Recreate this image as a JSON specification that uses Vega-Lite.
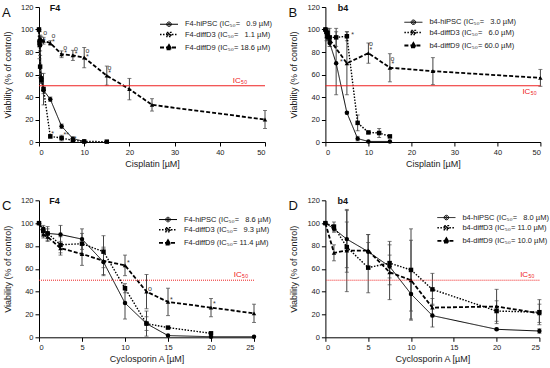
{
  "$schema": "https://vega.github.io/schema/vega-lite/v6.json",
  "padding": {"left": 2, "top": 3, "right": 0, "bottom": 0},
  "config": {
    "font": "Liberation Sans",
    "view": {"stroke": null},
    "axis": {"domainColor": "#000", "tickColor": "#000", "labelColor": "#222", "titleColor": "#222", "labelFontSize": 7.5, "titleFontSize": 9, "titleFontWeight": "normal", "grid": false, "tickSize": 4, "labelPadding": 2, "domainWidth": 1, "tickWidth": 1},
    "axisY": {"titlePadding": 8},
    "axisX": {"titlePadding": 4, "labelAngle": 0},
    "legend": {"title": null, "labelFontSize": 7.5, "labelColor": "#222", "symbolSize": 36, "symbolStrokeWidth": 1.2, "rowPadding": 1, "labelOffset": 12, "symbolOffset": 6,
      "symbolType": {"expr": "datum.index === 0 ? 'M-3,0H3M-0.75,0A0.75,0.75 0 1,0 0.75,0A0.75,0.75 0 1,0 -0.75,0ZM-0.35,0A0.35,0.35 0 1,0 0.35,0A0.35,0.35 0 1,0 -0.35,0Z' : datum.index === 1 ? 'M-3,0H3M-0.7,-0.7H0.7V0.7H-0.7ZM-0.35,-0.35H0.35V0.35H-0.35Z' : 'M-3,0H3M0,-0.85L0.85,0.6H-0.85ZM0,-0.4L0.4,0.3H-0.4Z'"}},
    "title": {"fontSize": 13, "fontWeight": "normal", "anchor": "start", "frame": "group", "color": "#111"}
  },
  "datasets": {
    "pts": [
      {"p":"A","s":"h","x":0,"y":100,"e":0},{"p":"A","s":"h","x":0.1,"y":90,"e":4},{"p":"A","s":"h","x":0.25,"y":86,"e":5},{"p":"A","s":"h","x":0.5,"y":57,"e":4},{"p":"A","s":"h","x":1,"y":46,"e":3},{"p":"A","s":"h","x":2.5,"y":38,"e":2},{"p":"A","s":"h","x":5,"y":14,"e":2},{"p":"A","s":"h","x":7.5,"y":3,"e":1.5},{"p":"A","s":"h","x":10,"y":0.5,"e":0},
      {"p":"A","s":"d3","x":0,"y":100,"e":0},{"p":"A","s":"d3","x":0.1,"y":88,"e":3},{"p":"A","s":"d3","x":0.25,"y":67,"e":10},{"p":"A","s":"d3","x":0.5,"y":55,"e":3},{"p":"A","s":"d3","x":1,"y":47,"e":14},{"p":"A","s":"d3","x":2.5,"y":5,"e":1.5},{"p":"A","s":"d3","x":5,"y":3.5,"e":2.5},{"p":"A","s":"d3","x":7.5,"y":1.5,"e":1},{"p":"A","s":"d3","x":10,"y":0.5,"e":0},{"p":"A","s":"d3","x":15,"y":0.3,"e":0},
      {"p":"A","s":"d9","x":0,"y":100,"e":0},{"p":"A","s":"d9","x":0.1,"y":86,"e":12},{"p":"A","s":"d9","x":0.25,"y":92,"e":3},{"p":"A","s":"d9","x":0.5,"y":91,"e":3},{"p":"A","s":"d9","x":1,"y":90,"e":3},{"p":"A","s":"d9","x":2.5,"y":88,"e":2},{"p":"A","s":"d9","x":5,"y":78,"e":3},{"p":"A","s":"d9","x":7.5,"y":77,"e":4.5},{"p":"A","s":"d9","x":10,"y":75,"e":9},{"p":"A","s":"d9","x":15,"y":59,"e":8.5},{"p":"A","s":"d9","x":20,"y":47,"e":9.5},{"p":"A","s":"d9","x":25,"y":33,"e":5.5},{"p":"A","s":"d9","x":50,"y":20,"e":8},
      {"p":"B","s":"h","x":0,"y":100,"e":1},{"p":"B","s":"h","x":0.25,"y":97,"e":3},{"p":"B","s":"h","x":0.5,"y":95,"e":3},{"p":"B","s":"h","x":1,"y":88,"e":3},{"p":"B","s":"h","x":2.5,"y":70,"e":28},{"p":"B","s":"h","x":5,"y":26,"e":1},{"p":"B","s":"h","x":7.5,"y":3,"e":2},{"p":"B","s":"h","x":10,"y":0.5,"e":0},{"p":"B","s":"h","x":15,"y":0.5,"e":0},
      {"p":"B","s":"d3","x":0,"y":100,"e":0},{"p":"B","s":"d3","x":0.25,"y":98,"e":3},{"p":"B","s":"d3","x":0.5,"y":97,"e":4},{"p":"B","s":"d3","x":1,"y":93,"e":8},{"p":"B","s":"d3","x":2.5,"y":93,"e":8},{"p":"B","s":"d3","x":5,"y":94,"e":4},{"p":"B","s":"d3","x":7.5,"y":17,"e":7},{"p":"B","s":"d3","x":10,"y":8.5,"e":1},{"p":"B","s":"d3","x":12.5,"y":8,"e":4},{"p":"B","s":"d3","x":15,"y":5,"e":1},
      {"p":"B","s":"d9","x":0,"y":100,"e":0},{"p":"B","s":"d9","x":0.25,"y":94,"e":4},{"p":"B","s":"d9","x":0.5,"y":93,"e":3},{"p":"B","s":"d9","x":1,"y":91,"e":3},{"p":"B","s":"d9","x":5,"y":70,"e":28},{"p":"B","s":"d9","x":10,"y":79,"e":9},{"p":"B","s":"d9","x":15,"y":66,"e":12.5},{"p":"B","s":"d9","x":25,"y":63,"e":12},{"p":"B","s":"d9","x":50,"y":57,"e":7.5},
      {"p":"C","s":"h","x":0,"y":100,"e":0},{"p":"C","s":"h","x":0.5,"y":95,"e":3},{"p":"C","s":"h","x":1,"y":91,"e":4},{"p":"C","s":"h","x":2.5,"y":90,"e":8},{"p":"C","s":"h","x":5,"y":86,"e":9},{"p":"C","s":"h","x":7.5,"y":66,"e":12},{"p":"C","s":"h","x":10,"y":30,"e":14},{"p":"C","s":"h","x":12.5,"y":12,"e":6},{"p":"C","s":"h","x":15,"y":1.5,"e":0.5},{"p":"C","s":"h","x":20,"y":0.5,"e":0},{"p":"C","s":"h","x":25,"y":0.5,"e":0},
      {"p":"C","s":"d3","x":0,"y":100,"e":0},{"p":"C","s":"d3","x":0.5,"y":93,"e":3},{"p":"C","s":"d3","x":1,"y":91,"e":6},{"p":"C","s":"d3","x":2.5,"y":81,"e":7},{"p":"C","s":"d3","x":5,"y":82,"e":9},{"p":"C","s":"d3","x":7.5,"y":75,"e":14},{"p":"C","s":"d3","x":10,"y":43,"e":4},{"p":"C","s":"d3","x":12.5,"y":12,"e":11},{"p":"C","s":"d3","x":15,"y":8.5,"e":0.5},{"p":"C","s":"d3","x":20,"y":3.5,"e":1},
      {"p":"C","s":"d9","x":0,"y":100,"e":0},{"p":"C","s":"d9","x":0.5,"y":90,"e":3},{"p":"C","s":"d9","x":1,"y":88,"e":4},{"p":"C","s":"d9","x":2.5,"y":78,"e":6},{"p":"C","s":"d9","x":5,"y":73,"e":10},{"p":"C","s":"d9","x":7.5,"y":67,"e":12},{"p":"C","s":"d9","x":10,"y":63,"e":9},{"p":"C","s":"d9","x":12.5,"y":40,"e":15},{"p":"C","s":"d9","x":15,"y":31,"e":12},{"p":"C","s":"d9","x":20,"y":26,"e":8},{"p":"C","s":"d9","x":25,"y":21,"e":8},
      {"p":"D","s":"h","x":0,"y":100,"e":0},{"p":"D","s":"h","x":1,"y":95,"e":3},{"p":"D","s":"h","x":2.5,"y":86,"e":25},{"p":"D","s":"h","x":5,"y":75,"e":15},{"p":"D","s":"h","x":7.5,"y":62,"e":10},{"p":"D","s":"h","x":10,"y":38,"e":22},{"p":"D","s":"h","x":12.5,"y":19,"e":10},{"p":"D","s":"h","x":20,"y":7,"e":1},{"p":"D","s":"h","x":25,"y":5.5,"e":2},
      {"p":"D","s":"d3","x":0,"y":100,"e":0},{"p":"D","s":"d3","x":1,"y":97,"e":4},{"p":"D","s":"d3","x":2.5,"y":79,"e":22},{"p":"D","s":"d3","x":5,"y":61,"e":22},{"p":"D","s":"d3","x":7.5,"y":65,"e":19},{"p":"D","s":"d3","x":10,"y":59,"e":36},{"p":"D","s":"d3","x":12.5,"y":42,"e":14},{"p":"D","s":"d3","x":20,"y":23,"e":9},{"p":"D","s":"d3","x":25,"y":22,"e":11},
      {"p":"D","s":"d9","x":0,"y":100,"e":0},{"p":"D","s":"d9","x":1,"y":74,"e":7},{"p":"D","s":"d9","x":2.5,"y":76,"e":36},{"p":"D","s":"d9","x":5,"y":76,"e":14},{"p":"D","s":"d9","x":7.5,"y":57,"e":24},{"p":"D","s":"d9","x":10,"y":50,"e":35},{"p":"D","s":"d9","x":12.5,"y":26,"e":8},{"p":"D","s":"d9","x":20,"y":27,"e":15},{"p":"D","s":"d9","x":25,"y":21,"e":8}
    ],
    "ann": [
      {"p":"A","t":"o","x":1.4,"y":97},{"p":"A","t":"o","x":3.2,"y":94},{"p":"A","t":"*","x":1.2,"y":90},{"p":"A","t":"*","x":3.2,"y":89},{"p":"A","t":"o","x":5.8,"y":84},{"p":"A","t":"*","x":5.9,"y":79},{"p":"A","t":"o","x":8.2,"y":83},{"p":"A","t":"*","x":8.2,"y":78},{"p":"A","t":"o","x":10.7,"y":81},{"p":"A","t":"*","x":10.7,"y":76},{"p":"A","t":"o","x":15.6,"y":66},{"p":"A","t":"*","x":15.6,"y":61},{"p":"A","t":"*","x":3.0,"y":7},{"p":"A","t":"**","x":6.0,"y":6},{"p":"A","t":"*","x":8.0,"y":3},
      {"p":"B","t":"*","x":6.3,"y":95},{"p":"B","t":"*","x":3.7,"y":71},{"p":"B","t":"o","x":10.6,"y":87},{"p":"B","t":"*","x":10.6,"y":82},{"p":"B","t":"o","x":15.6,"y":74},{"p":"B","t":"*","x":15.7,"y":69},
      {"p":"C","t":"*","x":10.4,"y":65},{"p":"C","t":"o","x":12.9,"y":42},{"p":"C","t":"*","x":15.4,"y":33},{"p":"C","t":"*","x":20.4,"y":29}
    ]
  },
  "columns": 2,
  "bounds": "flush",
  "spacing": {"row": 58.3, "column": 60.4},
  "resolve": {"scale": {"x": "independent", "y": "independent", "strokeDash": "independent", "strokeWidth": "independent"}, "legend": {"strokeDash": "independent"}},
  "concat": [
    {
      "width": 226, "height": 135,
      "title": {"text": "A", "dx": -37, "offset": -17},
      "layer": [
        {"data": {"name": "pts"}, "transform": [{"filter": "datum.p === 'A' && datum.e > 0"}], "mark": {"type": "errorbar", "color": "#444", "thickness": 1, "ticks": {"size": 4, "color": "#444"}},
         "encoding": {"x": {"field": "x", "type": "quantitative", "scale": {"domain": [0,50], "nice": false}, "axis": {"values": [0,10,20,30,40,50], "title": "Cisplatin [µM]"}}, "y": {"field": "y", "type": "quantitative", "scale": {"domain": [0,120], "nice": false}, "axis": {"values": [0,20,40,60,80,100,120], "title": "Viability (% of control)"}}, "yError": {"field": "e"}}},
        {"data": {"name": "pts"}, "transform": [{"filter": "datum.p === 'A'"}], "mark": {"type": "line", "color": "#000"},
         "encoding": {
           "x": {"field": "x", "type": "quantitative", "scale": {"domain": [0,50], "nice": false}, "axis": {"values": [0,10,20,30,40,50], "title": "Cisplatin [µM]"}},
           "y": {"field": "y", "type": "quantitative", "scale": {"domain": [0,120], "nice": false}, "axis": {"values": [0,20,40,60,80,100,120], "title": "Viability (% of control)"}},
           "strokeWidth": {"field": "s", "type": "nominal", "scale": {"domain": ["h","d3","d9"], "range": [1, 1.8, 1.2]}, "legend": null},
           "strokeDash": {"field": "s", "type": "nominal", "scale": {"domain": ["h","d3","d9"], "range": [[1,0],[1.5,1.5],[4,2]]},
             "legend": {"orient": "none", "legendX": 120, "legendY": 13.5,
               "labelExpr": "datum.label === 'h' ? 'F4-hiPSC (IC₅₀= \u20070.9 µM)' : datum.label === 'd3' ? 'F4-diffD3  (IC₅₀= \u20071.1 µM)' : 'F4-diffD9 (IC₅₀= 18.6 µM)'",
               "encode": {"symbols": {"fill": {"value": "#000"}}}}}
         }},
        {"data": {"name": "pts"}, "transform": [{"filter": "datum.p === 'A'"}], "mark": {"type": "point", "filled": true, "opacity": 1, "color": "#000", "size": 20, "shape": {"expr": "datum.s === 'h' ? 'circle' : datum.s === 'd3' ? 'square' : 'triangle-up'"}},
         "encoding": {"x": {"field": "x", "type": "quantitative", "scale": {"domain": [0,50], "nice": false}, "axis": {"values": [0,10,20,30,40,50], "title": "Cisplatin [µM]"}}, "y": {"field": "y", "type": "quantitative", "scale": {"domain": [0,120], "nice": false}, "axis": {"values": [0,20,40,60,80,100,120], "title": "Viability (% of control)"}}}},
        {"data": {"values": [{}]}, "mark": {"type": "rule", "color": "#ee2020", "strokeWidth": 1}, "encoding": {"y": {"datum": 50, "type": "quantitative", "scale": {"domain": [0,120], "nice": false}, "axis": {"values": [0,20,40,60,80,100,120], "title": "Viability (% of control)"}}}},
        {"data": {"name": "ann"}, "transform": [{"filter": "datum.p === 'A'"}], "mark": {"type": "text", "fontSize": 7, "color": "#333", "align": "center", "baseline": "middle"},
         "encoding": {"x": {"field": "x", "type": "quantitative", "scale": {"domain": [0,50], "nice": false}, "axis": {"values": [0,10,20,30,40,50], "title": "Cisplatin [µM]"}}, "y": {"field": "y", "type": "quantitative", "scale": {"domain": [0,120], "nice": false}, "axis": {"values": [0,20,40,60,80,100,120], "title": "Viability (% of control)"}}, "text": {"field": "t"}}},
        {"data": {"values": [{}]}, "mark": {"type": "text", "text": "F4", "fontSize": 9, "fontWeight": "bold", "align": "left", "baseline": "middle", "color": "#111"},
         "encoding": {"x": {"datum": 2.4, "type": "quantitative", "scale": {"domain": [0,50], "nice": false}, "axis": {"values": [0,10,20,30,40,50], "title": "Cisplatin [µM]"}}, "y": {"datum": 119, "type": "quantitative", "scale": {"domain": [0,120], "nice": false}, "axis": {"values": [0,20,40,60,80,100,120], "title": "Viability (% of control)"}}}},
        {"data": {"values": [{}]}, "mark": {"type": "text", "text": "IC₅₀", "fontSize": 8, "align": "center", "baseline": "bottom", "color": "#ee2020", "dy": -1},
         "encoding": {"x": {"datum": 44.5, "type": "quantitative", "scale": {"domain": [0,50], "nice": false}, "axis": {"values": [0,10,20,30,40,50], "title": "Cisplatin [µM]"}}, "y": {"datum": 50, "type": "quantitative", "scale": {"domain": [0,120], "nice": false}, "axis": {"values": [0,20,40,60,80,100,120], "title": "Viability (% of control)"}}}}
      ]
    },
    {
      "width": 215, "height": 135,
      "title": {"text": "B", "dx": -37, "offset": -17},
      "layer": [
        {"data": {"name": "pts"}, "transform": [{"filter": "datum.p === 'B' && datum.e > 0"}], "mark": {"type": "errorbar", "color": "#444", "thickness": 1, "ticks": {"size": 4, "color": "#444"}},
         "encoding": {"x": {"field": "x", "type": "quantitative", "scale": {"domain": [0,50], "nice": false}, "axis": {"values": [0,10,20,30,40,50], "title": "Cisplatin [µM]"}}, "y": {"field": "y", "type": "quantitative", "scale": {"domain": [0,120], "nice": false}, "axis": {"values": [0,20,40,60,80,100,120], "title": "Viability (% of control)"}}, "yError": {"field": "e"}}},
        {"data": {"name": "pts"}, "transform": [{"filter": "datum.p === 'B'"}], "mark": {"type": "line", "color": "#000"},
         "encoding": {
           "x": {"field": "x", "type": "quantitative", "scale": {"domain": [0,50], "nice": false}, "axis": {"values": [0,10,20,30,40,50], "title": "Cisplatin [µM]"}},
           "y": {"field": "y", "type": "quantitative", "scale": {"domain": [0,120], "nice": false}, "axis": {"values": [0,20,40,60,80,100,120], "title": "Viability (% of control)"}},
           "strokeWidth": {"field": "s", "type": "nominal", "scale": {"domain": ["h","d3","d9"], "range": [1, 1.8, 1.2]}, "legend": null},
           "strokeDash": {"field": "s", "type": "nominal", "scale": {"domain": ["h","d3","d9"], "range": [[1,0],[1.5,1.5],[4,2]]},
             "legend": {"orient": "none", "legendX": 78, "legendY": 11.5,
               "labelExpr": "datum.label === 'h' ? 'b4-hiPSC (IC₅₀= \u20073.0 µM)' : datum.label === 'd3' ? 'b4-diffD3  (IC₅₀= \u20076.0 µM)' : 'b4-diffD9 (IC₅₀= 60.0 µM)'",
               "encode": {"symbols": {"fill": {"value": "#000"}}}}}
         }},
        {"data": {"name": "pts"}, "transform": [{"filter": "datum.p === 'B'"}], "mark": {"type": "point", "filled": true, "opacity": 1, "color": "#000", "size": 20, "shape": {"expr": "datum.s === 'h' ? 'circle' : datum.s === 'd3' ? 'square' : 'triangle-up'"}},
         "encoding": {"x": {"field": "x", "type": "quantitative", "scale": {"domain": [0,50], "nice": false}, "axis": {"values": [0,10,20,30,40,50], "title": "Cisplatin [µM]"}}, "y": {"field": "y", "type": "quantitative", "scale": {"domain": [0,120], "nice": false}, "axis": {"values": [0,20,40,60,80,100,120], "title": "Viability (% of control)"}}}},
        {"data": {"values": [{}]}, "mark": {"type": "rule", "color": "#ee2020", "strokeWidth": 1}, "encoding": {"y": {"datum": 50, "type": "quantitative", "scale": {"domain": [0,120], "nice": false}, "axis": {"values": [0,20,40,60,80,100,120], "title": "Viability (% of control)"}}}},
        {"data": {"name": "ann"}, "transform": [{"filter": "datum.p === 'B'"}], "mark": {"type": "text", "fontSize": 7, "color": "#333", "align": "center", "baseline": "middle"},
         "encoding": {"x": {"field": "x", "type": "quantitative", "scale": {"domain": [0,50], "nice": false}, "axis": {"values": [0,10,20,30,40,50], "title": "Cisplatin [µM]"}}, "y": {"field": "y", "type": "quantitative", "scale": {"domain": [0,120], "nice": false}, "axis": {"values": [0,20,40,60,80,100,120], "title": "Viability (% of control)"}}, "text": {"field": "t"}}},
        {"data": {"values": [{}]}, "mark": {"type": "text", "text": "b4", "fontSize": 9, "fontWeight": "bold", "align": "left", "baseline": "middle", "color": "#111"},
         "encoding": {"x": {"datum": 2.9, "type": "quantitative", "scale": {"domain": [0,50], "nice": false}, "axis": {"values": [0,10,20,30,40,50], "title": "Cisplatin [µM]"}}, "y": {"datum": 119, "type": "quantitative", "scale": {"domain": [0,120], "nice": false}, "axis": {"values": [0,20,40,60,80,100,120], "title": "Viability (% of control)"}}}},
        {"data": {"values": [{}]}, "mark": {"type": "text", "text": "IC₅₀", "fontSize": 8, "align": "center", "baseline": "top", "color": "#ee2020", "dy": 2},
         "encoding": {"x": {"datum": 47.5, "type": "quantitative", "scale": {"domain": [0,50], "nice": false}, "axis": {"values": [0,10,20,30,40,50], "title": "Cisplatin [µM]"}}, "y": {"datum": 50, "type": "quantitative", "scale": {"domain": [0,120], "nice": false}, "axis": {"values": [0,20,40,60,80,100,120], "title": "Viability (% of control)"}}}}
      ]
    },
    {
      "width": 215, "height": 137,
      "title": {"text": "C", "dx": -37, "offset": -17},
      "layer": [
        {"data": {"name": "pts"}, "transform": [{"filter": "datum.p === 'C' && datum.e > 0"}], "mark": {"type": "errorbar", "color": "#444", "thickness": 1, "ticks": {"size": 4, "color": "#444"}},
         "encoding": {"x": {"field": "x", "type": "quantitative", "scale": {"domain": [0,25], "nice": false}, "axis": {"values": [0,5,10,15,20,25], "title": "Cyclosporin A [µM]"}}, "y": {"field": "y", "type": "quantitative", "scale": {"domain": [0,120], "nice": false}, "axis": {"values": [0,20,40,60,80,100,120], "title": "Viability (% of control)"}}, "yError": {"field": "e"}}},
        {"data": {"name": "pts"}, "transform": [{"filter": "datum.p === 'C'"}], "mark": {"type": "line", "color": "#000"},
         "encoding": {
           "x": {"field": "x", "type": "quantitative", "scale": {"domain": [0,25], "nice": false}, "axis": {"values": [0,5,10,15,20,25], "title": "Cyclosporin A [µM]"}},
           "y": {"field": "y", "type": "quantitative", "scale": {"domain": [0,120], "nice": false}, "axis": {"values": [0,20,40,60,80,100,120], "title": "Viability (% of control)"}},
           "strokeWidth": {"field": "s", "type": "nominal", "scale": {"domain": ["h","d3","d9"], "range": [1, 1.8, 1.2]}, "legend": null},
           "strokeDash": {"field": "s", "type": "nominal", "scale": {"domain": ["h","d3","d9"], "range": [[1,0],[1.5,1.5],[4,2]]},
             "legend": {"orient": "none", "legendX": 119, "legendY": 15.5,
               "labelExpr": "datum.label === 'h' ? 'F4-hiPSC (IC₅₀= \u20078.6 µM)' : datum.label === 'd3' ? 'F4-diffD3  (IC₅₀= \u20079.3 µM)' : 'F4-diffD9  (IC₅₀= 11.4 µM)'",
               "encode": {"symbols": {"fill": {"value": "#000"}}}}}
         }},
        {"data": {"name": "pts"}, "transform": [{"filter": "datum.p === 'C'"}], "mark": {"type": "point", "filled": true, "opacity": 1, "color": "#000", "size": 20, "shape": {"expr": "datum.s === 'h' ? 'circle' : datum.s === 'd3' ? 'square' : 'triangle-up'"}},
         "encoding": {"x": {"field": "x", "type": "quantitative", "scale": {"domain": [0,25], "nice": false}, "axis": {"values": [0,5,10,15,20,25], "title": "Cyclosporin A [µM]"}}, "y": {"field": "y", "type": "quantitative", "scale": {"domain": [0,120], "nice": false}, "axis": {"values": [0,20,40,60,80,100,120], "title": "Viability (% of control)"}}}},
        {"data": {"values": [{}]}, "mark": {"type": "rule", "color": "#ee2020", "strokeWidth": 1, "strokeDash": [1,1]}, "encoding": {"y": {"datum": 50, "type": "quantitative", "scale": {"domain": [0,120], "nice": false}, "axis": {"values": [0,20,40,60,80,100,120], "title": "Viability (% of control)"}}}},
        {"data": {"name": "ann"}, "transform": [{"filter": "datum.p === 'C'"}], "mark": {"type": "text", "fontSize": 7, "color": "#333", "align": "center", "baseline": "middle"},
         "encoding": {"x": {"field": "x", "type": "quantitative", "scale": {"domain": [0,25], "nice": false}, "axis": {"values": [0,5,10,15,20,25], "title": "Cyclosporin A [µM]"}}, "y": {"field": "y", "type": "quantitative", "scale": {"domain": [0,120], "nice": false}, "axis": {"values": [0,20,40,60,80,100,120], "title": "Viability (% of control)"}}, "text": {"field": "t"}}},
        {"data": {"values": [{}]}, "mark": {"type": "text", "text": "F4", "fontSize": 9, "fontWeight": "bold", "align": "left", "baseline": "middle", "color": "#111"},
         "encoding": {"x": {"datum": 1.2, "type": "quantitative", "scale": {"domain": [0,25], "nice": false}, "axis": {"values": [0,5,10,15,20,25], "title": "Cyclosporin A [µM]"}}, "y": {"datum": 119, "type": "quantitative", "scale": {"domain": [0,120], "nice": false}, "axis": {"values": [0,20,40,60,80,100,120], "title": "Viability (% of control)"}}}},
        {"data": {"values": [{}]}, "mark": {"type": "text", "text": "IC₅₀", "fontSize": 8, "align": "center", "baseline": "bottom", "color": "#ee2020", "dy": -1},
         "encoding": {"x": {"datum": 23.5, "type": "quantitative", "scale": {"domain": [0,25], "nice": false}, "axis": {"values": [0,5,10,15,20,25], "title": "Cyclosporin A [µM]"}}, "y": {"datum": 50, "type": "quantitative", "scale": {"domain": [0,120], "nice": false}, "axis": {"values": [0,20,40,60,80,100,120], "title": "Viability (% of control)"}}}}
      ]
    },
    {
      "width": 214, "height": 137,
      "title": {"text": "D", "dx": -37, "offset": -17},
      "layer": [
        {"data": {"name": "pts"}, "transform": [{"filter": "datum.p === 'D' && datum.e > 0"}], "mark": {"type": "errorbar", "color": "#444", "thickness": 1, "ticks": {"size": 4, "color": "#444"}},
         "encoding": {"x": {"field": "x", "type": "quantitative", "scale": {"domain": [0,25], "nice": false}, "axis": {"values": [0,5,10,15,20,25], "title": "Cyclosporin A [µM]"}}, "y": {"field": "y", "type": "quantitative", "scale": {"domain": [0,120], "nice": false}, "axis": {"values": [0,20,40,60,80,100,120], "title": "Viability (% of control)"}}, "yError": {"field": "e"}}},
        {"data": {"name": "pts"}, "transform": [{"filter": "datum.p === 'D'"}], "mark": {"type": "line", "color": "#000"},
         "encoding": {
           "x": {"field": "x", "type": "quantitative", "scale": {"domain": [0,25], "nice": false}, "axis": {"values": [0,5,10,15,20,25], "title": "Cyclosporin A [µM]"}},
           "y": {"field": "y", "type": "quantitative", "scale": {"domain": [0,120], "nice": false}, "axis": {"values": [0,20,40,60,80,100,120], "title": "Viability (% of control)"}},
           "strokeWidth": {"field": "s", "type": "nominal", "scale": {"domain": ["h","d3","d9"], "range": [1, 1.8, 1.2]}, "legend": null},
           "strokeDash": {"field": "s", "type": "nominal", "scale": {"domain": ["h","d3","d9"], "range": [[1,0],[1.5,1.5],[4,2]]},
             "legend": {"orient": "none", "legendX": 111, "legendY": 13.5,
               "labelExpr": "datum.label === 'h' ? 'b4-hiPSC (IC₅₀= \u20078.0 µM)' : datum.label === 'd3' ? 'b4-diffD3 (IC₅₀= 11.0 µM)' : 'b4-diffD9 (IC₅₀= 10.0 µM)'",
               "encode": {"symbols": {"fill": {"value": "#000"}}}}}
         }},
        {"data": {"name": "pts"}, "transform": [{"filter": "datum.p === 'D'"}], "mark": {"type": "point", "filled": true, "opacity": 1, "color": "#000", "size": 20, "shape": {"expr": "datum.s === 'h' ? 'circle' : datum.s === 'd3' ? 'square' : 'triangle-up'"}},
         "encoding": {"x": {"field": "x", "type": "quantitative", "scale": {"domain": [0,25], "nice": false}, "axis": {"values": [0,5,10,15,20,25], "title": "Cyclosporin A [µM]"}}, "y": {"field": "y", "type": "quantitative", "scale": {"domain": [0,120], "nice": false}, "axis": {"values": [0,20,40,60,80,100,120], "title": "Viability (% of control)"}}}},
        {"data": {"values": [{}]}, "mark": {"type": "rule", "color": "#ee2020", "strokeWidth": 1, "strokeDash": [1,1]}, "encoding": {"y": {"datum": 50, "type": "quantitative", "scale": {"domain": [0,120], "nice": false}, "axis": {"values": [0,20,40,60,80,100,120], "title": "Viability (% of control)"}}}},
        {"data": {"values": [{}]}, "mark": {"type": "text", "text": "b4", "fontSize": 9, "fontWeight": "bold", "align": "left", "baseline": "middle", "color": "#111"},
         "encoding": {"x": {"datum": 1.4, "type": "quantitative", "scale": {"domain": [0,25], "nice": false}, "axis": {"values": [0,5,10,15,20,25], "title": "Cyclosporin A [µM]"}}, "y": {"datum": 119, "type": "quantitative", "scale": {"domain": [0,120], "nice": false}, "axis": {"values": [0,20,40,60,80,100,120], "title": "Viability (% of control)"}}}},
        {"data": {"values": [{}]}, "mark": {"type": "text", "text": "IC₅₀", "fontSize": 8, "align": "center", "baseline": "bottom", "color": "#ee2020", "dy": -1},
         "encoding": {"x": {"datum": 23.6, "type": "quantitative", "scale": {"domain": [0,25], "nice": false}, "axis": {"values": [0,5,10,15,20,25], "title": "Cyclosporin A [µM]"}}, "y": {"datum": 50, "type": "quantitative", "scale": {"domain": [0,120], "nice": false}, "axis": {"values": [0,20,40,60,80,100,120], "title": "Viability (% of control)"}}}}
      ]
    }
  ]
}
